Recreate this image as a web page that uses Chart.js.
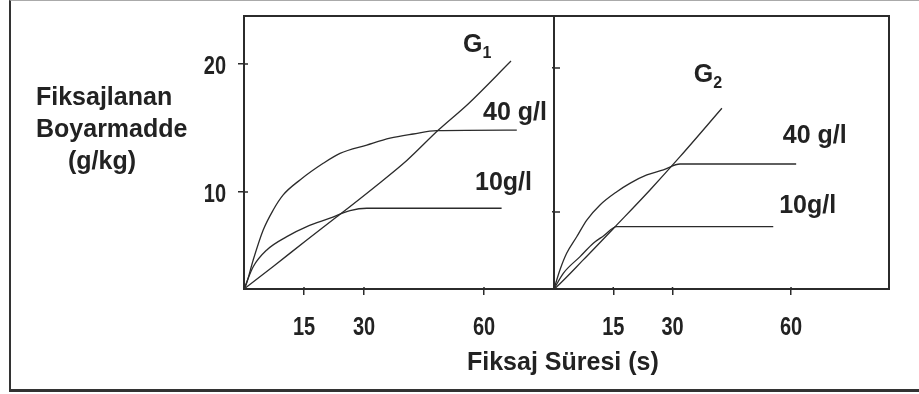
<!DOCTYPE html>
<html>
<head>
<meta charset="utf-8">
<script src="https://cdn.jsdelivr.net/npm/chart.js@4.4.1/dist/chart.umd.min.js"></script>
<style>
  html, body { margin: 0; padding: 0; background: #fff; width: 919px; height: 394px; overflow: hidden; }
  .frame { position: absolute; left: 9px; top: 0; width: 1000px; height: 388px;
           border-top: 1px solid #aaa; border-left: 2px solid #333; border-bottom: 3px solid #333; }
  .box { position: absolute; top: 0; height: 394px; }
  #boxA { left: 0; width: 560px; }
  #boxB { left: 540px; width: 379px; }
  .title { position: absolute; font: bold 25px "Liberation Sans", Arial, sans-serif; line-height: 32px; color: #222; white-space: nowrap; }
  #ytitle { left: 36px; top: 80px; }
  #xtitle { left: 467px; top: 345px; }
</style>
</head>
<body>
<div class="frame"></div>
<div class="box" id="boxA"><canvas id="chartA"></canvas></div>
<div class="box" id="boxB"><canvas id="chartB"></canvas></div>
<div class="title" id="ytitle">Fiksajlanan<br>Boyarmadde<br><span style="padding-left:32px">(g/kg)</span></div>
<div class="title" id="xtitle">Fiksaj Süresi (s)</div>

<script>
// eksen işaretleri
const X_TICKS = [15, 30, 60];
const Y_TICKS = [10, 20];

// G1 paneli (sol) — süre (s) / boyarmadde (g/kg)
const G1_LINE_S = [0, 7.3, 15.7, 23.2, 32.3, 40.7, 48.6, 56.1, 66.75];
const G1_LINE_V = [2.42, 4.18, 6.25, 8.06, 10.30, 12.46, 14.84, 16.9, 20.23];
const G1_40_S = [0, 0.5, 2.3, 4.8, 7.3, 9.8, 14, 19.8, 24, 30.7, 36.5, 42.3, 48.2, 68.2];
const G1_40_V = [2.42, 2.73, 4.69, 7.03, 8.59, 9.77, 10.94, 12.24, 13.02, 13.67, 14.2, 14.53, 14.8, 14.84];
const G1_10_S = [0, 2.3, 5.7, 10.7, 15.7, 21.5, 26.5, 30.7, 64.4];
const G1_10_V = [2.42, 4.16, 5.47, 6.51, 7.29, 7.95, 8.54, 8.73, 8.73];

// G2 paneli (sağ)
const G2_LINE_S = [0, 0.7, 7.4, 15.9, 24.3, 31.9, 42.5];
const G2_LINE_V = [4.65, 4.81, 6.67, 9.10, 11.53, 13.84, 17.2];
const G2_40_S = [0, 1.5, 3.2, 5.75, 8.3, 11.65, 15.9, 19.2, 23.5, 27.7, 31.9, 61.3];
const G2_40_V = [4.65, 5.97, 7.13, 8.28, 9.44, 10.49, 11.41, 11.99, 12.57, 12.92, 13.33, 13.33];
const G2_10_S = [0, 2.35, 6.6, 9.95, 12.5, 15.9, 55.5];
const G2_10_V = [4.65, 5.74, 6.90, 7.83, 8.33, 8.98, 8.98];

const INK = '#2b2b2b';
const TEXT_FONT = '"Liberation Sans", Arial, sans-serif';

const pts = (s, v) => s.map((x, i) => ({ x: x, y: v[i] }));

const curve = (s, v) => ({
  data: pts(s, v),
  borderColor: INK,
  borderWidth: 1.3,
  pointRadius: 0,
  cubicInterpolationMode: 'monotone'
});

// iç tick işaretleri + çerçeve
const innerTicks = {
  id: 'innerTicks',
  afterDraw(chart, args, opts) {
    const { ctx, chartArea: a, scales: { x, y } } = chart;
    ctx.save();
    ctx.strokeStyle = INK;
    ctx.lineWidth = 1.5;
    ctx.beginPath();
    x.ticks.forEach(t => {
      const p = x.getPixelForValue(t.value);
      ctx.moveTo(p, a.bottom); ctx.lineTo(p, a.bottom - opts.x);
    });
    y.ticks.forEach(t => {
      const p = y.getPixelForValue(t.value);
      ctx.moveTo(a.left, p); ctx.lineTo(a.left + opts.y, p);
    });
    ctx.stroke();
    ctx.lineWidth = 2;
    ctx.strokeRect(a.left, a.top, a.right - a.left, a.bottom - a.top);
    ctx.restore();
  }
};

// dar (sıkıştırılmış) tick yazıları
const tickLabels = {
  id: 'tickLabels',
  afterDraw(chart, args, opts) {
    const { ctx, chartArea: a, scales: { x, y } } = chart;
    ctx.save();
    ctx.fillStyle = '#222';
    ctx.font = 'bold 25px ' + TEXT_FONT;
    ctx.textBaseline = 'alphabetic';
    const put = (txt, px, py, align) => {
      ctx.save();
      ctx.translate(px, py);
      ctx.scale(0.8, 1);
      ctx.textAlign = align;
      ctx.fillText(txt, 0, 0);
      ctx.restore();
    };
    x.ticks.forEach(t => put(String(t.value), x.getPixelForValue(t.value), a.bottom + 46, 'center'));
    if (opts.y) {
      y.ticks.forEach(t => put(String(t.value), a.left - 18, y.getPixelForValue(t.value) + 10, 'right'));
    }
    ctx.restore();
  }
};

// eğri etiketleri (G1, 40 g/l, 10g/l)
const curveLabels = {
  id: 'curveLabels',
  afterDatasetsDraw(chart, args, opts) {
    const { ctx, scales: { x, y } } = chart;
    ctx.save();
    ctx.fillStyle = '#222';
    ctx.textBaseline = 'alphabetic';
    ctx.textAlign = 'left';
    opts.items.forEach(it => {
      const px = x.getPixelForValue(it.x);
      const py = y.getPixelForValue(it.y);
      ctx.font = 'bold 25px ' + TEXT_FONT;
      ctx.fillText(it.text, px, py);
      if (it.sub) {
        const w = ctx.measureText(it.text).width;
        ctx.font = 'bold 16px ' + TEXT_FONT;
        ctx.fillText(it.sub, px + w, py + 6.5);
      }
    });
    ctx.restore();
  }
};

function makePanel(id, p) {
  return new Chart(document.getElementById(id), {
    type: 'line',
    data: { datasets: p.datasets },
    plugins: [innerTicks, tickLabels, curveLabels],
    options: {
      responsive: true,
      maintainAspectRatio: false,
      animation: false,
      events: [],
      layout: { padding: { left: 0, top: 16, right: p.padRight, bottom: 0 } },
      plugins: {
        legend: { display: false },
        tooltip: { enabled: false },
        innerTicks: { x: 2, y: p.yInner },
        tickLabels: { y: p.yLabels },
        curveLabels: { items: p.labels }
      },
      scales: {
        x: {
          type: 'linear',
          min: 0,
          max: p.xMax,
          afterBuildTicks: s => { s.ticks = X_TICKS.map(v => ({ value: v })); },
          afterFit: s => { s.height = 105; s.paddingLeft = 0; s.paddingRight = 0; },
          border: { display: false },
          grid: { drawOnChartArea: false, tickLength: 6, color: INK, lineWidth: 1.5 },
          ticks: { display: false }
        },
        y: {
          type: 'linear',
          min: p.yMin,
          max: p.yMax,
          afterBuildTicks: s => { s.ticks = Y_TICKS.map(v => ({ value: v })); },
          afterFit: s => { s.width = p.yWidth; s.paddingTop = 0; s.paddingBottom = 0; },
          border: { display: false },
          grid: { drawOnChartArea: false, tickLength: p.yOuter, color: INK, lineWidth: 1.5 },
          ticks: { display: false }
        }
      }
    }
  });
}

makePanel('chartA', {
  datasets: [curve(G1_LINE_S, G1_LINE_V), curve(G1_40_S, G1_40_V), curve(G1_10_S, G1_10_V)],
  xMax: 77.5, yMin: 2.42, yMax: 23.75,
  yWidth: 244, padRight: 6, yOuter: 6, yInner: 4, yLabels: true,
  labels: [
    { text: 'G', sub: '1', x: 54.75, y: 20.96 },
    { text: '40 g/l', x: 59.75, y: 15.63 },
    { text: '10g/l', x: 57.75, y: 10.16 }
  ]
});

makePanel('chartB', {
  datasets: [curve(G2_LINE_S, G2_LINE_V), curve(G2_40_S, G2_40_V), curve(G2_10_S, G2_10_V)],
  xMax: 84.8, yMin: 4.65, yMax: 23.61,
  yWidth: 14, padRight: 30, yOuter: 2, yInner: 6, yLabels: false,
  labels: [
    { text: 'G', sub: '2', x: 35.4, y: 19.05 },
    { text: '40 g/l', x: 57.9, y: 14.77 },
    { text: '10g/l', x: 57.0, y: 9.91 }
  ]
});
</script>
</body>
</html>
